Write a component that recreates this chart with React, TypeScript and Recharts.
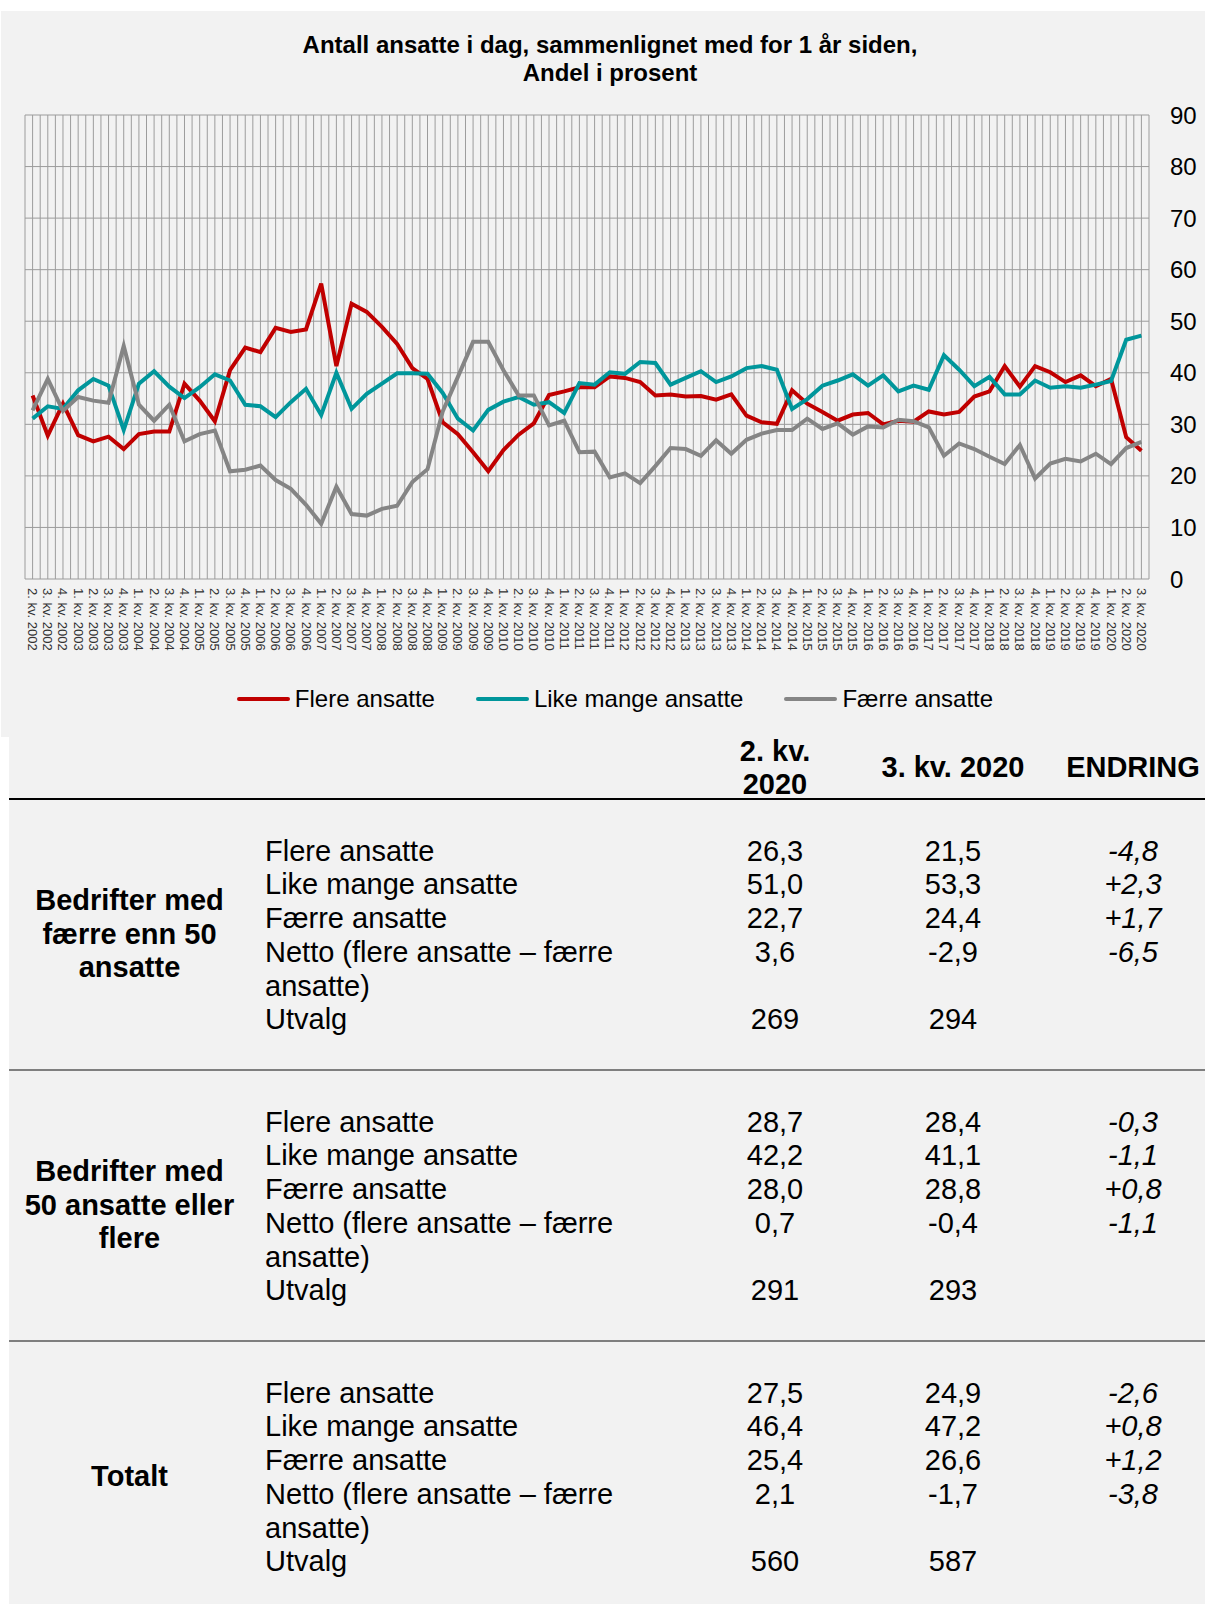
import React from 'react';
import { LineChart, Line, XAxis, YAxis, CartesianGrid, Legend } from 'recharts';

// kvartaler, 2. kv. 2002 - 3. kv. 2020
const quarterLabels = [
  '2. kv. 2002', '3. kv. 2002', '4. kv. 2002',
  '1. kv. 2003', '2. kv. 2003', '3. kv. 2003', '4. kv. 2003',
  '1. kv. 2004', '2. kv. 2004', '3. kv. 2004', '4. kv. 2004',
  '1. kv. 2005', '2. kv. 2005', '3. kv. 2005', '4. kv. 2005',
  '1. kv. 2006', '2. kv. 2006', '3. kv. 2006', '4. kv. 2006',
  '1. kv. 2007', '2. kv. 2007', '3. kv. 2007', '4. kv. 2007',
  '1. kv. 2008', '2. kv. 2008', '3. kv. 2008', '4. kv. 2008',
  '1. kv. 2009', '2. kv. 2009', '3. kv. 2009', '4. kv. 2009',
  '1. kv. 2010', '2. kv. 2010', '3. kv. 2010', '4. kv. 2010',
  '1. kv. 2011', '2. kv. 2011', '3. kv. 2011', '4. kv. 2011',
  '1. kv. 2012', '2. kv. 2012', '3. kv. 2012', '4. kv. 2012',
  '1. kv. 2013', '2. kv. 2013', '3. kv. 2013', '4. kv. 2013',
  '1. kv. 2014', '2. kv. 2014', '3. kv. 2014', '4. kv. 2014',
  '1. kv. 2015', '2. kv. 2015', '3. kv. 2015', '4. kv. 2015',
  '1. kv. 2016', '2. kv. 2016', '3. kv. 2016', '4. kv. 2016',
  '1. kv. 2017', '2. kv. 2017', '3. kv. 2017', '4. kv. 2017',
  '1. kv. 2018', '2. kv. 2018', '3. kv. 2018', '4. kv. 2018',
  '1. kv. 2019', '2. kv. 2019', '3. kv. 2019', '4. kv. 2019',
  '1. kv. 2020', '2. kv. 2020', '3. kv. 2020',
];

const flereAnsatte = [
  35.6, 27.8, 34.0, 27.9, 26.7, 27.6, 25.2, 28.1, 28.6, 28.6,
  37.9, 34.6, 30.6, 40.5, 44.9, 44.0, 48.7, 47.9, 48.4, 57.3,
  41.3, 53.4, 51.8, 48.9, 45.6, 40.9, 38.8, 30.4, 28.1, 24.6,
  20.9, 25.0, 28.0, 30.2, 35.7, 36.4, 37.2, 37.2, 39.3, 39.0,
  38.2, 35.6, 35.8, 35.4, 35.5, 34.8, 35.8, 31.7, 30.4, 30.1,
  36.6, 34.0, 32.4, 30.7, 31.9, 32.2, 30.0, 30.7, 30.5, 32.5,
  31.9, 32.4, 35.4, 36.4, 41.3, 37.3, 41.3, 40.1, 38.2, 39.5,
  37.4, 38.8, 27.5, 24.9,
];

const likeMangeAnsatte = [
  31.1, 33.5, 33.0, 36.6, 38.8, 37.5, 28.9, 37.9, 40.3, 37.3,
  35.1, 37.2, 39.7, 38.5, 33.8, 33.5, 31.4, 34.3, 36.9, 31.8,
  40.0, 33.0, 35.9, 37.9, 39.9, 39.9, 39.8, 36.1, 31.1, 28.8,
  32.8, 34.4, 35.3, 33.8, 34.3, 32.2, 38.0, 37.7, 40.1, 39.8,
  42.1, 41.9, 37.7, 39.0, 40.3, 38.2, 39.3, 40.9, 41.3, 40.6,
  33.0, 34.9, 37.5, 38.5, 39.7, 37.5, 39.5, 36.4, 37.5, 36.7,
  43.4, 40.6, 37.4, 39.2, 35.8, 35.8, 38.5, 37.1, 37.4, 37.1,
  37.7, 38.4, 46.4, 47.2,
];

const faerreAnsatte = [
  32.7, 38.8, 32.6, 35.3, 34.6, 34.2, 45.2, 33.8, 30.7, 33.8,
  26.7, 28.1, 28.8, 20.9, 21.2, 22.0, 19.2, 17.5, 14.4, 10.7,
  17.9, 12.6, 12.3, 13.6, 14.2, 18.8, 21.3, 32.5, 39.2, 46.0,
  46.0, 40.5, 35.6, 35.6, 29.8, 30.7, 24.6, 24.7, 19.7, 20.5,
  18.6, 21.9, 25.4, 25.2, 23.9, 26.9, 24.3, 27.0, 28.2, 28.9,
  28.9, 31.1, 29.1, 30.2, 28.0, 29.6, 29.4, 30.9, 30.6, 29.4,
  23.9, 26.3, 25.2, 23.7, 22.3, 26.0, 19.5, 22.4, 23.3, 22.8,
  24.3, 22.3, 25.4, 26.6,
];

const yTicks = [0, 10, 20, 30, 40, 50, 60, 70, 80, 90];

const seriesNames = ['Flere ansatte', 'Like mange ansatte', 'Færre ansatte'];
const seriesColors = ['#c00000', '#00969b', '#858585'];

// tabell
const tableGroups = [
  'Bedrifter med færre enn 50 ansatte',
  'Bedrifter med 50 ansatte eller flere',
  'Totalt',
];
const tableRowLabels = [
  'Flere ansatte',
  'Like mange ansatte',
  'Færre ansatte',
  'Netto (flere ansatte – færre ansatte)',
  'Utvalg',
];
const q2Values = [
  ['26,3', '51,0', '22,7', '3,6', '269'],
  ['28,7', '42,2', '28,0', '0,7', '291'],
  ['27,5', '46,4', '25,4', '2,1', '560'],
];
const q3Values = [
  ['21,5', '53,3', '24,4', '-2,9', '294'],
  ['28,4', '41,1', '28,8', '-0,4', '293'],
  ['24,9', '47,2', '26,6', '-1,7', '587'],
];
const changeValues = [
  ['-4,8', '+2,3', '+1,7', '-6,5', ''],
  ['-0,3', '-1,1', '+0,8', '-1,1', ''],
  ['-2,6', '+0,8', '+1,2', '-3,8', ''],
];

const chartData = quarterLabels.map((label, idx) => ({
  idx,
  label,
  flere: flereAnsatte[idx],
  like: likeMangeAnsatte[idx],
  faerre: faerreAnsatte[idx],
}));

const xDomain: [number, number] = [-0.5, quarterLabels.length - 0.5];
const catTicks = quarterLabels.map((_, i) => i);
// gridlinjer for hvert halve kvartal (som i Excel)
const gridTicks = Array.from({ length: quarterLabels.length * 2 + 1 }, (_, k) => -0.5 + k * 0.5);

const FONT = '"Liberation Sans", Arial, sans-serif';

const XTick = (props: any) => {
  const { x, y, payload } = props;
  return (
    <text
      transform={`translate(${x},${y}) rotate(90)`}
      x={0}
      y={0}
      fontSize={13}
      fill="#333"
      textAnchor="start"
      dominantBaseline="central"
    >
      {quarterLabels[payload.value]}
    </text>
  );
};

const renderLegend = (props: any) => {
  const payload = [...(props.payload || [])].sort(
    (a: any, b: any) => seriesNames.indexOf(a.value) - seriesNames.indexOf(b.value)
  );
  return (
    <div style={{ display: 'flex', justifyContent: 'center', gap: 41, paddingLeft: 25 }}>
      {payload.map((entry: any) => (
        <div key={entry.value} style={{ display: 'flex', alignItems: 'center', fontSize: 24, lineHeight: '28px', color: '#000' }}>
          <div style={{ width: 53, height: 4, borderRadius: 2, background: entry.color, marginRight: 5 }} />
          <span>{entry.value}</span>
        </div>
      ))}
    </div>
  );
};

const colCenters = [766, 944, 1124];
const colWidth = 160;

export default function App() {
  return (
    <div style={{ position: 'absolute', left: 0, top: 0, width: 1205, height: 1604, overflow: 'hidden', background: '#fff', fontFamily: FONT, color: '#000' }}>
      {/* chart box */}
      <div style={{ position: 'absolute', left: 1, top: 11, width: 1204, height: 726, background: '#f2f2f2' }} />
      <div style={{ position: 'absolute', left: 0, top: 31, width: 1220, textAlign: 'center', fontWeight: 'bold', fontSize: 24, lineHeight: '28px' }}>
        Antall ansatte i dag, sammenlignet med for 1 år siden,
        <br />
        Andel i prosent
      </div>
      <div style={{ position: 'absolute', left: 0, top: 0 }}>
        <LineChart width={1205} height={737} data={chartData} margin={{ top: 115, right: 6, left: 25, bottom: 78 }}>
          <CartesianGrid xAxisId="grid" stroke="#9c9c9c" strokeWidth={1} />
          <XAxis
            xAxisId="grid"
            type="number"
            dataKey="idx"
            domain={xDomain}
            allowDataOverflow
            ticks={gridTicks}
            interval={0}
            hide
          />
          <XAxis
            xAxisId="cat"
            type="number"
            dataKey="idx"
            domain={xDomain}
            allowDataOverflow
            ticks={catTicks}
            interval={0}
            tick={(p: any) => <XTick {...p} />}
            tickLine={false}
            axisLine={false}
            tickSize={0}
            tickMargin={9}
            height={80}
          />
          <YAxis
            orientation="right"
            domain={[0, 90]}
            ticks={yTicks}
            interval={0}
            axisLine={false}
            tickLine={false}
            tickSize={0}
            tickMargin={21}
            width={50}
            tick={{ fontSize: 24, fill: '#000' }}
          />
          <Legend
            verticalAlign="middle"
            layout="horizontal"
            wrapperStyle={{ top: 685, left: 0, width: 1205 }}
            content={renderLegend}
          />
          <Line xAxisId="cat" type="linear" dataKey="flere" name={seriesNames[0]} stroke={seriesColors[0]} strokeWidth={4} dot={false} isAnimationActive={false} />
          <Line xAxisId="cat" type="linear" dataKey="like" name={seriesNames[1]} stroke={seriesColors[1]} strokeWidth={4} dot={false} isAnimationActive={false} />
          <Line xAxisId="cat" type="linear" dataKey="faerre" name={seriesNames[2]} stroke={seriesColors[2]} strokeWidth={4} dot={false} isAnimationActive={false} />
        </LineChart>
      </div>

      {/* table */}
      <div style={{ position: 'absolute', left: 9, top: 737, width: 1196, height: 880, background: '#f2f2f2', fontSize: 29 }}>
        <div style={{ position: 'relative', height: 61, borderBottom: '2px solid #000' }}>
          {[
            <>2. kv.<br />2020</>,
            <>3. kv. 2020</>,
            <>ENDRING</>,
          ].map((h, i) => (
            <div
              key={i}
              style={{
                position: 'absolute', left: colCenters[i] - colWidth / 2, width: colWidth, top: 0, height: 61,
                display: 'flex', alignItems: 'center', justifyContent: 'center', textAlign: 'center',
                fontWeight: 'bold', lineHeight: '33px', whiteSpace: 'nowrap',
              }}
            >
              <div>{h}</div>
            </div>
          ))}
        </div>
        {tableGroups.map((group, g) => (
          <div key={group} style={{ position: 'relative', height: 269, borderBottom: '2px solid #7f7f7f' }}>
            <div style={{ position: 'absolute', left: 10.5, width: 220, top: 0, height: 269, display: 'flex', alignItems: 'center', justifyContent: 'center', textAlign: 'center', fontWeight: 'bold', lineHeight: '33.5px' }}>
              <div>{group}</div>
            </div>
            <div style={{ position: 'absolute', left: 0, top: 34.5, width: 1196, lineHeight: '33.8px' }}>
              {tableRowLabels.map((label, r) => (
                <div key={label} style={{ position: 'relative' }}>
                  <div style={{ marginLeft: 256, width: 420 }}>{label}</div>
                  {[q2Values[g][r], q3Values[g][r], changeValues[g][r]].map((v, c) => (
                    <div
                      key={c}
                      style={{
                        position: 'absolute', top: 0, left: colCenters[c] - colWidth / 2, width: colWidth, textAlign: 'center',
                        fontStyle: c === 2 ? 'italic' : 'normal',
                      }}
                    >
                      {v}
                    </div>
                  ))}
                </div>
              ))}
            </div>
          </div>
        ))}
      </div>
    </div>
  );
}
